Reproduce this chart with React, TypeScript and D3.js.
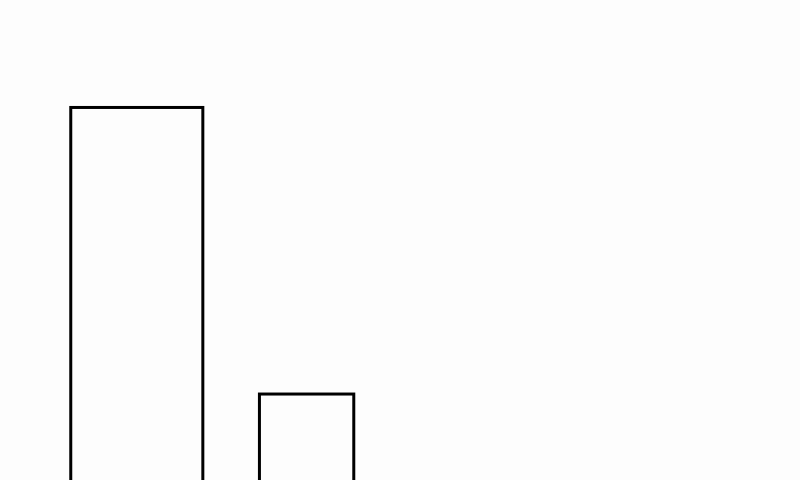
import React, { useEffect, useRef } from 'react';
import * as d3 from 'd3';

// Two outlined bars, variable width, bottoms run past the frame
const categories = ['A', 'B'];
const values = [11, 3];
const widths = [1.4, 1.0];

export default function App() {
  const svgRef = useRef<SVGSVGElement>(null);

  useEffect(() => {
    if (!svgRef.current) return;
    drawChart();
  }, []);

  const drawChart = () => {
    const svg = d3.select(svgRef.current);
    svg.selectAll('*').remove();

    const W = 800;
    const H = 480;

    svg.attr('width', W).attr('height', H);

    svg
      .append('rect')
      .attr('width', W)
      .attr('height', H)
      .attr('fill', '#fdfdfd');

    // x in width units, y in value units
    const x = d3.scaleLinear().domain([0, 8.48]).range([0, W]);
    const y = d3.scaleLinear().domain([0, 14]).range([501.5, 0]);

    const gap = 0.6;
    let start = 0.75;
    const bars = categories.map((c, i) => {
      const b = { name: c, x0: start, x1: start + widths[i], v: values[i] };
      start += widths[i] + gap;
      return b;
    });

    svg
      .selectAll('.bar')
      .data(bars)
      .enter()
      .append('rect')
      .attr('class', 'bar')
      .attr('x', (d) => x(d.x0))
      .attr('y', (d) => y(d.v))
      .attr('width', (d) => x(d.x1) - x(d.x0))
      .attr('height', (d) => y(0) - y(d.v))
      .attr('fill', 'none')
      .attr('stroke', '#000')
      .attr('stroke-width', 3);
  };

  return (
    <svg
      ref={svgRef}
      style={{ position: 'fixed', top: 0, left: 0, display: 'block' }}
    ></svg>
  );
}
